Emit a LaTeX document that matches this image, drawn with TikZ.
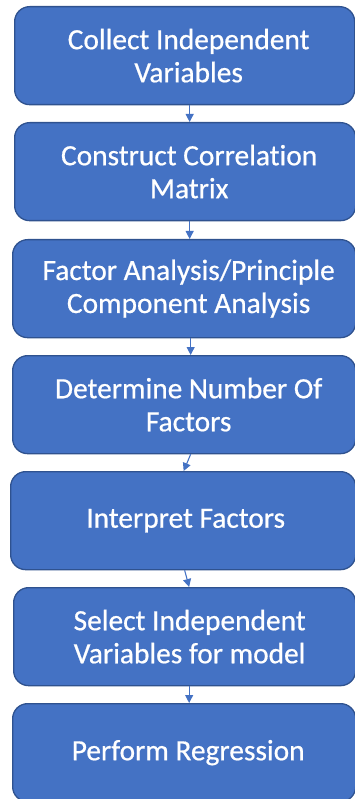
\documentclass[tikz,border=0pt]{standalone}
\usepackage{fontspec}
\setmainfont{Carlito}[Ligatures=CommonOff, FakeBold=0.6]
\usetikzlibrary{arrows.meta}
\definecolor{stepfill}{HTML}{4472C4}
\definecolor{stepedge}{HTML}{2F528F}
\tikzset{
  stepbox/.style={draw=stepedge, fill=stepfill, line width=1.3pt, rounded corners=15pt,
    anchor=north west, inner sep=0pt, minimum height=98pt},
  steptext/.style={text=white, align=center, inner sep=0pt,
    font=\fontsize{29.4}{33}\selectfont},
  flow/.style={draw=stepfill, line width=1.1pt, -{Triangle[width=8pt,length=8pt]}}
}
\begin{document}
\begin{tikzpicture}[x=1pt,y=1pt]
\useasboundingbox (0,0) rectangle (355,-799);
\clip (0,0) rectangle (355,-799);
% boxes
\node[stepbox, minimum width=340pt] (b1) at (14,-6) {};
\node[stepbox, minimum width=341pt] (b2) at (14,-122) {};
\node[stepbox, minimum width=343pt] (b3) at (12,-239) {};
\node[stepbox, minimum width=343pt] (b4) at (12,-355) {};
\node[stepbox, minimum width=345pt] (b5) at (10,-471) {};
\node[stepbox, minimum width=342pt] (b6) at (13,-587) {};
\node[stepbox, minimum width=343pt] (b7) at (12,-703) {};
% labels
\node[steptext] (t1) at ([xshift=4pt]b1.center) {Collect Independent\\Variables};
\node[steptext] (t2) at ([xshift=4pt]b2.center) {Construct Correlation\\Matrix};
\node[steptext] (t3) at ([xshift=4.5pt]b3.center) {Factor Analysis/Principle\\Component Analysis};
\node[steptext] (t4) at ([xshift=4.5pt]b4.center) {Determine Number Of\\Factors};
\node[steptext] (t5) at ([xshift=2.5pt]b5.center) {Interpret Factors};
\node[steptext] (t6) at ([xshift=5pt]b6.center) {Select Independent\\Variables for model};
\node[steptext] (t7) at ([xshift=4pt]b7.center) {Perform Regression};
% connectors
\draw[flow] ([xshift=5pt]b1.south) -- ([xshift=5pt]b1.south |- b2.north);
\draw[flow] ([xshift=4.5pt]b2.south) -- ([xshift=4.5pt]b2.south |- b3.north);
\draw[flow] ([xshift=6.5pt]b3.south) -- ([xshift=6.5pt]b3.south |- b4.north);
\draw[flow] ([xshift=6.5pt]b4.south) -- ([xshift=0.5pt]b5.north);
\draw[flow] ([xshift=1.5pt]b5.south) -- ([xshift=4.5pt]b6.south |- b6.north);
\draw[flow] ([xshift=4.5pt]b6.south) -- ([xshift=4.5pt]b6.south |- b7.north);
\end{tikzpicture}
\end{document}
